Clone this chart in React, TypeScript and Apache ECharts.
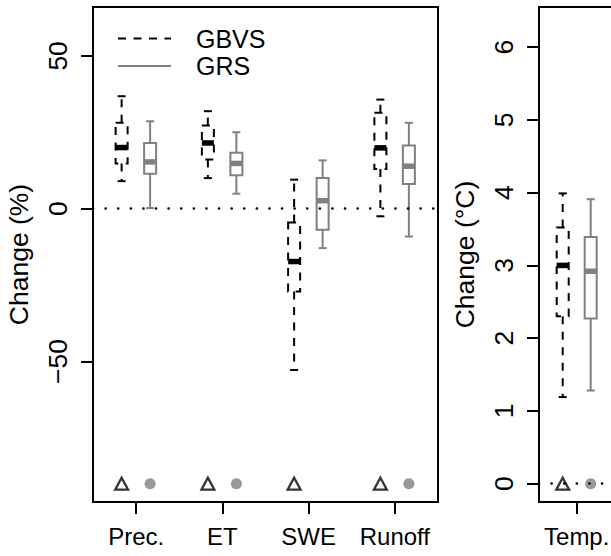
import React, { useEffect, useRef } from "react";
import * as echarts from "echarts";

// ---- data ----
const categories = ["Prec.", "ET", "SWE", "Runoff"];
const tempCategories = ["Temp."];
// [lowerWhisker, Q1, median, Q3, upperWhisker]
const gbvsStats = [
  [9.0, 14.8, 20.0, 28.1, 36.8],
  [10.0, 16.1, 21.5, 27.2, 31.9],
  [-52.8, -27.1, -17.3, -4.5, 9.5],
  [-2.5, 13.0, 19.9, 31.4, 35.7],
];
const grsStats = [
  [0.2, 11.4, 15.3, 21.5, 28.6],
  [4.9, 10.9, 14.8, 18.3, 25.0],
  [-12.9, -6.9, 2.6, 10.0, 15.8],
  [-9.1, 8.1, 13.9, 20.7, 28.1],
];
const gbvsTemp = [[1.19, 2.3, 3.0, 3.52, 3.99]];
const grsTemp = [[1.28, 2.27, 2.92, 3.39, 3.91]];
// marker rows (value or null)
const gbvsMarks = [-90, -90, -90, -90];
const grsMarks = [-90, -90, null, -90];
const gbvsTempMarks = [0];
const grsTempMarks = [0];
const leftTicks = [-50, 0, 50];
const rightTicks = [0, 1, 2, 3, 4, 5, 6];
const legendNames = ["GBVS", "GRS"];

const FONT = "'Liberation Sans', Arial, Helvetica, sans-serif";
const GRAY = "#808080";
const DASH = [8, 7.5];

function boxSeries(xi: number, stats: number[][], offset: number, dashed: boolean) {
  const color = dashed ? "#000" : GRAY;
  return {
    type: "custom",
    xAxisIndex: xi,
    yAxisIndex: xi,
    z: 3,
    data: stats.map((s, i) => [i + 1, ...s]),
    encode: { x: 0, y: [1, 2, 3, 4, 5] },
    renderItem: (params: any, api: any) => {
      const pos = api.value(0);
      const cx = api.coord([pos, 0])[0] + offset;
      const y = (k: number) => api.coord([pos, api.value(k)])[1];
      const yLo = y(1), yQ1 = y(2), yMed = y(3), yQ3 = y(4), yHi = y(5);
      const bw = 12;
      const cw = 8;
      const lineStyle: any = { stroke: color, lineWidth: 2 };
      const dashStyle: any = dashed ? { ...lineStyle, lineDash: DASH } : lineStyle;
      return {
        type: "group",
        children: [
          { type: "line", shape: { x1: cx, y1: yQ3, x2: cx, y2: yHi }, style: dashStyle },
          { type: "line", shape: { x1: cx, y1: yQ1, x2: cx, y2: yLo }, style: dashStyle },
          { type: "line", shape: { x1: cx - cw / 2, y1: yHi, x2: cx + cw / 2, y2: yHi }, style: lineStyle },
          { type: "line", shape: { x1: cx - cw / 2, y1: yLo, x2: cx + cw / 2, y2: yLo }, style: lineStyle },
          {
            type: "rect",
            shape: { x: cx - bw / 2, y: yQ3, width: bw, height: yQ1 - yQ3 },
            style: { ...dashStyle, fill: dashed ? "none" : "#fff" },
          },
          {
            type: "line",
            shape: { x1: cx - bw / 2, y1: yMed, x2: cx + bw / 2, y2: yMed },
            style: { stroke: color, lineWidth: 5.5 },
          },
        ],
      };
    },
  };
}

function markSeries(xi: number, vals: (number | null)[], triangle: boolean, offset: number) {
  return {
    type: "scatter",
    xAxisIndex: xi,
    yAxisIndex: xi,
    z: 4,
    symbol: triangle ? "triangle" : "circle",
    symbolSize: triangle ? [13, 12] : 11,
    symbolOffset: [offset, 0],
    itemStyle: triangle
      ? { color: "#fff", borderColor: "#000", borderWidth: 2.2 }
      : { color: GRAY, borderWidth: 0 },
    data: vals.map((v, i) => (v === null ? [i + 1, "-"] : [i + 1, v])),
  };
}

function zeroLine(xi: number) {
  return {
    type: "line",
    xAxisIndex: xi,
    yAxisIndex: xi,
    data: [],
    z: 10,
    markLine: {
      silent: true,
      symbol: ["none", "none"],
      label: { show: false },
      lineStyle: { color: "#000", width: 2.6, type: [0.1, 12.5], cap: "round" },
      data: [{ yAxis: 0 }],
      z: 10,
    },
  };
}

const minusFmt = (v: number) => (v < 0 ? "\u2212" + Math.abs(v) : String(v));

function yAxis(gi: number, min: number, max: number, ticks: number[], name: string) {
  return {
    type: "value",
    gridIndex: gi,
    min,
    max,
    name,
    nameLocation: "middle",
    nameRotate: 90,
    nameGap: 61,
    nameTextStyle: { fontFamily: FONT, fontSize: 26.5, color: "#000" },
    splitLine: { show: false },
    axisLine: { show: false, onZero: false },
    axisTick: { show: true, length: 12, lineStyle: { color: "#000", width: 2 }, customValues: ticks },
    axisLabel: {
      show: true,
      rotate: 90,
      margin: 22,
      customValues: ticks,
      formatter: minusFmt,
      fontFamily: FONT,
      fontSize: 26.5,
      color: "#000",
    },
  };
}

function xAxis(gi: number, cats: string[], max: number) {
  const ticks = cats.map((_, i) => i + 1);
  return {
    type: "value",
    gridIndex: gi,
    min: 0.5,
    max,
    axisLine: { show: false, onZero: false },
    axisTick: { show: true, length: 12, lineStyle: { color: "#000", width: 2 }, customValues: ticks },
    axisLabel: {
      show: true,
      margin: 22,
      customValues: ticks,
      formatter: (v: number) => cats[Math.round(v) - 1] ?? "",
      fontFamily: FONT,
      fontSize: 24,
      color: "#000",
    },
    splitLine: { show: false },
  };
}

export default function App() {
  const ref = useRef<HTMLDivElement>(null);
  useEffect(() => {
    if (!ref.current) return;
    const chart = echarts.init(ref.current, null, { renderer: "svg" });
    const gridCommon = {
      show: true,
      borderColor: "#000",
      borderWidth: 2,
      backgroundColor: "transparent",
      containLabel: false,
      outerBoundsMode: "none",
    };
    chart.setOption({
      animation: false,
      backgroundColor: "#fff",
      grid: [
        { ...gridCommon, left: 93, top: 7, width: 345, height: 495 },
        { ...gridCommon, left: 539, top: 7, width: 150.8, height: 495 },
      ],
      xAxis: [xAxis(0, categories, 4.5), xAxis(1, tempCategories, 2.5)],
      yAxis: [
        yAxis(0, -96, 66, leftTicks, "Change (%)"),
        yAxis(1, -0.252, 6.552, rightTicks, "Change (\u00B0C)"),
      ],
      graphic: [
        { type: "line", shape: { x1: 118, y1: 38.5, x2: 171, y2: 38.5 }, style: { stroke: "#000", lineWidth: 2, lineDash: DASH } },
        { type: "line", shape: { x1: 118, y1: 66, x2: 171, y2: 66 }, style: { stroke: GRAY, lineWidth: 2 } },
        { type: "text", x: 196, y: 38.5, style: { text: legendNames[0], fontFamily: FONT, fontSize: 25, fill: "#000", verticalAlign: "middle" } },
        { type: "text", x: 196, y: 66, style: { text: legendNames[1], fontFamily: FONT, fontSize: 25, fill: "#000", verticalAlign: "middle" } },
      ],
      series: [
        boxSeries(0, gbvsStats, -14.5, true),
        boxSeries(0, grsStats, 14, false),
        boxSeries(1, gbvsTemp, -14, true),
        boxSeries(1, grsTemp, 14, false),
        markSeries(0, gbvsMarks, true, -14.5),
        markSeries(0, grsMarks, false, 14),
        markSeries(1, gbvsTempMarks, true, -14),
        markSeries(1, grsTempMarks, false, 14),
        zeroLine(0),
        zeroLine(1),
      ],
    });
    return () => chart.dispose();
  }, []);
  return <div ref={ref} style={{ width: 611, height: 556, position: "absolute", left: 0, top: 0 }} />;
}
